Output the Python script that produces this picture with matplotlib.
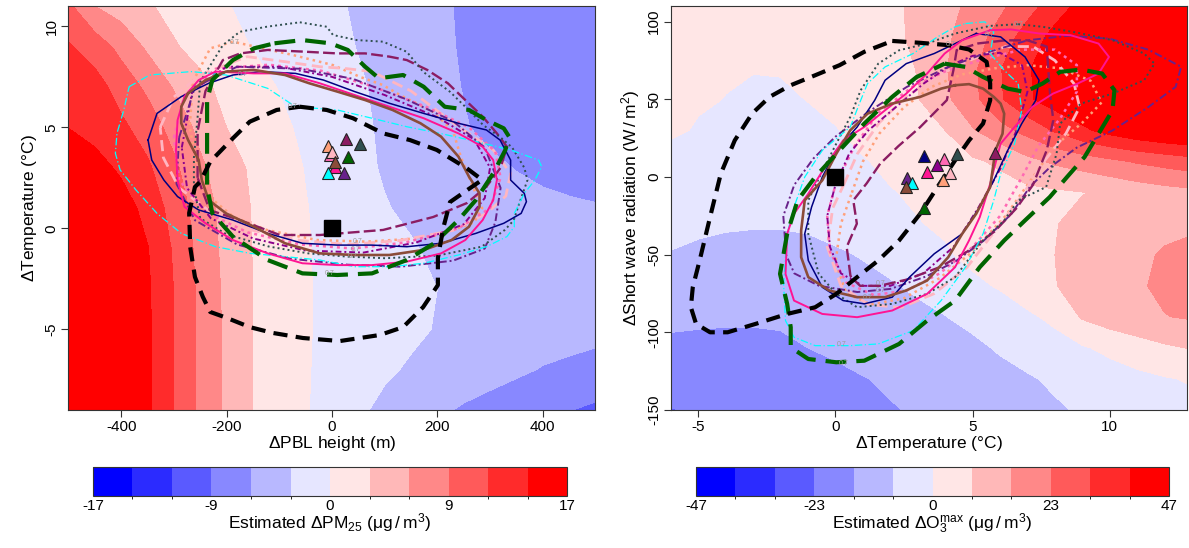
import numpy as np
import matplotlib
matplotlib.use("Agg")
import matplotlib.pyplot as plt
from matplotlib.colors import ListedColormap, BoundaryNorm
from matplotlib.cm import ScalarMappable

plt.rcParams['font.family'] = ['Liberation Sans', 'DejaVu Sans']
plt.rcParams['mathtext.default'] = 'regular'
plt.rcParams['axes.unicode_minus'] = False

# ------------------------------------------------------------------ colour scale
band_colors = ["#0000FF", "#2B2BFF", "#5A5AFF", "#8888FF", "#B8B8FF", "#E6E6FF",
               "#FFE6E6", "#FFB8B8", "#FF8888", "#FF5A5A", "#FF2B2B", "#FF0000"]
pm_limit = 17.0
o3_limit = 47.0
pm_cbar_ticks = [-17, -8.5, 0, 8.5, 17]
pm_cbar_labels = ["-17", "-9", "0", "9", "17"]
o3_cbar_ticks = [-47, -23.5, 0, 23.5, 47]
o3_cbar_labels = ["-47", "-23", "0", "23", "47"]

# ------------------------------------------------------------------ left panel: estimated dPM25 surface
# values in colour steps (1 step = pm_limit / 6 ug/m3), rows = temperature nodes, cols = PBL nodes
pbl_nodes = [-500, -450, -400, -350, -300, -250, -200, -150, -100, -50, 0,
             50, 100, 150, 200, 250, 300, 350, 400, 450, 500]
temp_nodes_left = [-9, -7, -5, -3, -1, 1, 3, 5, 7, 9, 11]
pm_field_steps = [
    [8.5, 7.6, 6.4, 5.2, 3.98, 2.81, 1.82, 0.99, 0.53, 0.065, -0.39, -0.85, -1.21, -1.53, -1.84, -2.11, -2.32, -2.54, -2.75, -2.97, -3.18],
    [8.8, 7.6, 6.4, 5.17, 3.98, 2.79, 1.80, 0.99, 0.53, 0.065, -0.26, -0.56, -0.87, -1.10, -1.29, -1.48, -1.66, -1.85, -2.05, -2.15, -2.30],
    [8.8, 7.6, 6.4, 5.17, 3.98, 2.79, 1.81, 0.99, 0.53, 0.065, -0.19, -0.41, -0.62, -0.84, -1.05, -1.20, -1.35, -1.50, -1.60, -1.70, -1.75],
    [8.7, 7.5, 6.35, 5.14, 3.98, 2.77, 1.77, 0.99, 0.53, 0.065, -0.18, -0.38, -0.59, -0.80, -1.00, -1.15, -1.28, -1.40, -1.50, -1.58, -1.65],
    [8.5, 7.4, 6.2, 5.05, 3.88, 2.67, 1.71, 0.97, 0.51, 0.055, -0.21, -0.45, -0.69, -0.93, -1.15, -1.30, -1.42, -1.52, -1.60, -1.68, -1.75],
    [7.3, 6.5, 5.55, 4.63, 3.63, 2.51, 1.62, 0.94, 0.49, 0.04, -0.30, -0.62, -0.95, -1.15, -1.33, -1.48, -1.60, -1.70, -1.78, -1.85, -1.92],
    [6.0, 5.43, 4.8, 4.16, 3.21, 2.17, 1.43, 0.84, 0.39, -0.04, -0.41, -0.79, -1.08, -1.27, -1.46, -1.65, -1.84, -2.03, -2.20, -2.35, -2.50],
    [4.98, 4.59, 4.2, 3.55, 2.62, 1.74, 1.0, 0.59, 0.19, -0.18, -0.50, -0.83, -1.13, -1.40, -1.67, -1.94, -2.20, -2.40, -2.55, -2.68, -2.80],
    [4.75, 4.4, 3.6, 2.79, 1.93, 1.23, 0.73, 0.34, -0.04, -0.33, -0.61, -0.90, -1.19, -1.47, -1.76, -2.03, -2.25, -2.45, -2.60, -2.72, -2.82],
    [4.1, 3.55, 2.69, 1.83, 1.08, 0.70, 0.32, -0.04, -0.29, -0.53, -0.78, -1.03, -1.29, -1.56, -1.82, -2.08, -2.30, -2.48, -2.62, -2.74, -2.85],
    [3.2, 2.0, 1.55, 1.1, 0.73, 0.39, 0.04, -0.20, -0.42, -0.65, -0.87, -1.10, -1.35, -1.60, -1.85, -2.10, -2.30, -2.47, -2.60, -2.72, -2.83],
]

# ------------------------------------------------------------------ right panel: estimated dO3max surface
temp_nodes_right = [-6, -5, -4, -3, -2, -1, 0, 1, 2, 3, 4, 5, 6, 7, 8, 9, 10, 11, 12, 13]
sw_nodes = [-150, -130, -110, -90, -70, -50, -30, -10, 10, 30, 50, 70, 90, 110]
o3_field_steps = [
    [-3.05, -2.85, -2.7, -2.6, -2.5, -2.4, -2.28, -2.17, -2.05, -1.93, -1.8, -1.65, -1.5, -1.33, -1.12, -0.9, -0.7, -0.5, -0.35, -0.25],
    [-2.5, -2.55, -2.55, -2.5, -2.42, -2.3, -2.17, -2.03, -1.9, -1.77, -1.62, -1.47, -1.3, -1.1, -0.85, -0.65, -0.45, -0.25, -0.07, 0.08],
    [-2.15, -2.18, -2.2, -2.2, -2.15, -2.0, -1.88, -1.75, -1.62, -1.5, -1.35, -1.2, -0.9, -0.6, -0.35, -0.1, 0.22, 0.55, 0.85, 1.05],
    [-1.85, -1.88, -1.9, -1.9, -1.88, -1.85, -1.78, -1.65, -1.45, -1.22, -1.02, -0.75, -0.45, -0.15, 0.2, 1.1, 1.5, 1.75, 1.97, 2.1],
    [-1.45, -1.5, -1.5, -1.5, -1.5, -1.45, -1.35, -1.22, -1.08, -0.85, -0.6, -0.18, 0.08, 0.5, 0.97, 1.3, 1.6, 1.88, 2.2, 2.3],
    [-1.02, -1.1, -1.18, -1.22, -1.22, -1.2, -1.1, -0.95, -0.72, -0.48, -0.1, 0.2, 0.45, 0.72, 1.0, 1.3, 1.55, 1.8, 2.1, 2.25],
    [-0.88, -0.9, -0.93, -0.95, -0.95, -0.9, -0.75, -0.55, -0.27, -0.04, 0.13, 0.3, 0.48, 0.7, 0.96, 1.25, 1.45, 1.6, 1.75, 1.85],
    [-0.75, -0.8, -0.8, -0.78, -0.7, -0.58, -0.42, -0.25, -0.05, 0.13, 0.3, 0.45, 0.6, 0.75, 0.85, 0.97, 1.15, 1.4, 1.6, 1.75],
    [-0.5, -0.55, -0.6, -0.6, -0.55, -0.4, -0.25, -0.06, 0.18, 0.4, 0.62, 0.85, 1.16, 1.72, 2.15, 2.46, 2.78, 3.1, 3.35, 3.6],
    [0.2, -0.1, -0.35, -0.5, -0.45, -0.3, -0.05, 0.25, 0.5, 0.75, 1.0, 1.91, 2.62, 3.33, 4.1, 4.8, 5.35, 5.8, 6.1, 6.3],
    [0.25, 0.12, -0.02, -0.25, -0.2, 0.03, 0.25, 0.48, 0.73, 0.96, 1.80, 2.71, 3.88, 4.85, 5.5, 5.9, 6.2, 6.4, 6.5, 6.5],
    [0.2, 0.15, 0.1, 0.06, 0.08, 0.2, 0.35, 0.5, 0.7, 1.03, 1.93, 2.79, 3.94, 4.92, 5.5, 6.0, 6.3, 6.5, 6.6, 6.6],
    [0.2, 0.28, 0.36, 0.44, 0.52, 0.6, 0.68, 0.76, 0.87, 1.11, 1.82, 2.53, 3.38, 4.48, 5.3, 5.7, 6.0, 6.3, 6.5, 6.6],
    [0.25, 0.33, 0.41, 0.49, 0.57, 0.65, 0.73, 0.81, 0.90, 1.09, 1.67, 2.24, 2.80, 3.58, 4.56, 5.3, 5.6, 5.9, 6.2, 6.4],
]

# ------------------------------------------------------------------ left panel: 0.7 density contours (dPBL m, dT degC)
pbl_obs = ([-61, -10, 40, 97, 148, 199, 256, 285, 257, 224, 211, 201, 201, 173, 135, 91, 15, -55, -112, -156, -199, -231, -245, -260, -269, -271, -260, -250, -231, -188, -156, -105],
           [6.02, 5.86, 5.45, 4.70, 4.37, 3.88, 2.97, 2.4, 1.9, 1.3, 0.0, -1.47, -2.81, -3.90, -4.89, -5.28, -5.58, -5.43, -5.18, -4.89, -4.44, -4.14, -3.40, -2.41, -0.93, 0.76, 2.05, 2.31, 3.30, 4.46, 5.28, 5.86])
pbl_cyan = ([-385, -346, -267, -201, -122, -69, 10, 76, 142, 207, 273, 339, 392, 398, 385, 365, 346, 346, 332, 293, 240, 174, 109, 43, -23, -89, -155, -221, -286, -332, -372, -402, -411, -408, -395],
            [7.01, 7.59, 7.76, 7.59, 6.93, 6.02, 5.86, 5.45, 5.03, 4.69, 4.3, 3.88, 3.38, 3.05, 2.39, 1.73, 0.74, 0.08, -0.41, -0.91, -1.32, -1.73, -1.90, -1.90, -1.57, -1.40, -1.24, -0.91, -0.25, 0.74, 1.90, 2.89, 3.71, 4.70, 5.86])
pbl_navy = ([-349, -332, -286, -234, -188, -135, -69, -16, 43, 109, 174, 240, 293, 319, 339, 339, 365, 369, 359, 326, 273, 207, 142, 76, 10, -56, -122, -188, -253, -293, -319, -342],
            [4.37, 5.69, 6.52, 7.18, 7.59, 7.76, 7.67, 7.34, 6.77, 6.19, 5.69, 5.20, 4.87, 4.37, 3.38, 2.39, 1.73, 1.32, 0.74, 0.25, -0.25, -0.74, -0.91, -0.83, -0.83, -0.74, -0.25, 0.41, 0.91, 1.57, 2.39, 3.38])
pbl_brown = ([-273, -240, -201, -148, -89, -43, 10, 63, 115, 168, 207, 240, 260, 280, 280, 260, 227, 174, 109, 43, -23, -89, -148, -201, -234, -247, -253, -273, -286, -286],
             [6.68, 7.34, 7.76, 7.84, 7.59, 7.18, 6.77, 6.35, 5.86, 5.20, 4.54, 3.55, 2.56, 1.73, 1.07, 0.08, -0.58, -1.07, -1.32, -1.32, -1.24, -0.74, 0.08, 0.74, 1.40, 2.39, 3.38, 4.37, 5.20, 6.02])
pbl_deeppink = ([-221, -148, -89, -23, 43, 109, 174, 240, 286, 306, 313, 306, 286, 253, 207, 142, 76, 10, -56, -122, -188, -240, -280, -293, -296, -293, -280, -253],
                [7.76, 7.67, 7.67, 7.18, 6.60, 6.02, 5.45, 4.70, 4.04, 3.38, 2.39, 1.40, 0.41, -0.58, -1.24, -1.65, -1.82, -1.82, -1.73, -1.24, -0.58, 0.25, 1.07, 2.39, 3.88, 5.36, 6.52, 7.34])
pbl_darkgreen = ([-109, -56, -3, 30, 63, 89, 135, 174, 214, 260, 293, 326, 336, 329, 306, 273, 240, 194, 142, 76, 10, -56, -122, -188, -227, -237, -237, -237, -227, -188, -148],
                 [9.16, 9.32, 9.16, 8.83, 8.0, 7.43, 7.59, 7.01, 6.02, 5.86, 5.36, 4.95, 4.54, 3.88, 2.72, 1.40, 0.41, -0.74, -1.57, -2.23, -2.31, -2.23, -1.57, -0.41, 0.74, 2.06, 3.88, 6.35, 7.34, 8.33, 8.91])
pbl_slate = ([-61, -10, 2, 47, 97, 142, 173, 224, 256, 287, 320, 342, 365, 371, 355, 345, 328, 284, 200, 101, 28, -45, -120, -200, -250, -262, -262, -255, -250, -207, -175, -124],
             [10.2, 9.98, 9.57, 9.32, 9.24, 8.74, 7.75, 6.76, 5.94, 5.11, 4.5, 4.0, 3.0, 2.39, 1.2, 0.4, -0.08, -0.91, -1.35, -1.48, -1.40, -1.24, -0.9, -0.3, 0.5, 2.0, 3.5, 5.5, 7.26, 9.07, 9.73, 9.98])
pbl_maroon = ([-255, -255, -240, -207, -174, -122, -56, 10, 63, 109, 142, 181, 220, 253, 286, 313, 332, 320, 293, 256, 192, 97, -23, -99, -175, -232],
              [2.5, 4.8, 6.8, 8.33, 8.66, 8.83, 8.75, 8.66, 8.66, 8.5, 8.33, 7.84, 7.18, 6.35, 5.53, 4.70, 4.04, 3.0, 2.06, 1.25, 0.56, -0.08, -0.33, -0.33, 0.41, 0.9])
pbl_salmon = ([-264, -231, -188, -74, 2, 53, 97, 129, 192, 230, 245, 265, 285, 270, 200, 161, 66, -28, -124, -187, -230, -255, -270],
              [7.26, 8.91, 9.24, 8.58, 8.08, 7.5, 7.09, 6.6, 5.77, 4.8, 3.5, 2.2, 1.0, 0.3, -0.35, -0.5, -0.66, -0.58, -0.08, 0.57, 1.5, 3.0, 5.0])
pbl_pink = ([-326, -300, -250, -161, -89, -23, 23, 76, 150, 240, 306, 339, 330, 293, 230, 130, 30, -60, -150, -230, -290, -320],
            [5.0, 6.5, 7.6, 8.5, 8.25, 8.0, 7.92, 7.76, 6.8, 5.03, 3.88, 2.72, 1.6, 0.74, -0.1, -0.6, -0.8, -0.6, -0.1, 0.8, 2.0, 3.5])
pbl_hotpink = ([-300, -280, -220, -120, -20, 80, 180, 260, 310, 320, 300, 240, 140, 40, -60, -160, -240, -290],
               [4.5, 6.6, 7.9, 8.1, 7.8, 7.0, 6.0, 5.0, 3.8, 2.5, 1.0, 0.0, -0.7, -1.0, -0.8, -0.2, 0.8, 2.4])
pbl_orchid = ([-290, -260, -180, -60, 40, 140, 230, 290, 320, 310, 290, 230, 130, 30, -80, -180, -260, -295],
              [4.5, 7.0, 8.0, 7.9, 7.4, 6.4, 5.3, 4.0, 2.0, 0.3, -1.0, -1.6, -1.9, -1.8, -1.5, -0.8, 0.4, 2.2])
pbl_magenta = ([-285, -265, -200, -100, 0, 100, 200, 270, 300, 290, 250, 160, 60, -50, -150, -230, -275],
               [4.0, 6.8, 8.0, 8.0, 7.5, 6.6, 5.5, 4.4, 3.0, 1.5, 0.2, -0.7, -1.2, -1.1, -0.5, 0.5, 2.0])
pbl_label_x = [-74, -184, -169, 44, 40, -5, 49]
pbl_label_y = [6.02, 9.2, 7.64, -1.04, -1.37, -2.23, -0.63]

# ------------------------------------------------------------------ right panel: 0.7 density contours (dT degC, dSW W/m2)
sw_obs = ([2.07, 3.09, 4.11, 4.87, 5.51, 5.64, 5.64, 5.38, 4.87, 4.36, 3.72, 3.09, 2.32, 1.56, 0.79, 0.03, -0.74, -1.76, -2.91, -3.93, -4.57, -5.08, -5.27, -5.20, -4.95, -4.57, -4.18, -3.67, -3.04, -2.40, -1.63, -0.74, 0.15, 1.05],
          [87.6, 86.4, 84.9, 82.1, 74.1, 60.2, 49.4, 34.4, 23.6, 10.7, -6.4, -23.6, -40.8, -53.7, -64.4, -75.2, -83.8, -88.1, -94.5, -99.9, -99.9, -94.5, -83.8, -70.9, -53.7, -25.8, 2.1, 23.6, 40.8, 51.6, 59.1, 65.5, 72.0, 80.6])
sw_darkgreen = ([3.98, 4.74, 5.38, 6.28, 6.91, 7.55, 8.19, 8.95, 9.72, 10.17, 10.1, 9.59, 9.08, 8.44, 7.81, 6.91, 6.15, 5.26, 4.36, 3.34, 2.32, 1.05, 0.03, -0.99, -1.63, -1.63, -1.76, -2.02, -1.76, -1.38, -0.74, 0.15, 1.05, 2.07, 2.96],
                [73.0, 70.9, 64.4, 56.9, 54.8, 60.2, 67.7, 69.2, 66.6, 55.9, 43.0, 27.9, 12.9, 0, -12.9, -27.9, -40.8, -58.0, -79.5, -92.4, -107.4, -118.2, -119.2, -117.1, -109.6, -96.7, -81.6, -62.3, -36.5, -15.0, 0, 17.2, 34.4, 51.6, 64.4])
sw_cyan = ([4.74, 5.45, 5.77, 5.64, 6.15, 6.66, 6.79, 6.53, 6.02, 5.77, 5.38, 4.74, 3.85, 2.83, 1.56, 0.54, -0.74, -1.51, -1.82, -1.89, -1.76, -1.51, -1.12, -0.48, 0.54, 0.92, 1.17, 1.81, 2.83, 3.72, 4.36],
           [98.8, 99.9, 93.4, 79.5, 68.7, 60.2, 43.0, 21.5, 2.1, -15.0, -36.5, -58.0, -79.5, -98.8, -107.4, -108.5, -108.5, -103.1, -92.4, -68.7, -36.5, -19.3, 0, 17.2, 32.2, 49.4, 60.2, 70.9, 79.5, 90.2, 96.7])
sw_navy = ([5.13, 6.02, 6.91, 7.42, 7.30, 6.79, 6.28, 5.77, 5.26, 4.62, 3.60, 2.70, 2.07, 1.05, 0.28, -0.48, -0.99, -1.12, -0.87, -0.48, 0.03, 0.79, 1.43, 1.81, 2.58, 3.60, 4.36],
           [92.4, 90.2, 77.3, 62.3, 49.4, 34.4, 17.2, -2.1, -19.3, -36.5, -49.4, -64.4, -77.3, -81.6, -79.5, -70.9, -53.7, -36.5, -19.3, 0, 17.2, 32.2, 49.4, 62.3, 73.0, 79.5, 85.9])
sw_deeppink = ([5.64, 6.40, 7.42, 8.57, 9.59, 9.97, 9.59, 8.83, 7.93, 7.17, 6.53, 6.02, 5.64, 5.26, 4.87, 4.36, 3.34, 2.07, 0.79, -0.48, -1.51, -1.82, -1.76, -1.51, -0.99, -0.23, 0.28, 1.05, 1.81, 2.58, 3.34, 3.98, 4.62],
               [94.5, 95.0, 92.4, 91.3, 85.9, 77.3, 66.6, 60.2, 53.7, 45.1, 32.2, 21.5, -4.3, -25.8, -40.8, -58.0, -75.2, -85.9, -90.2, -88.1, -79.5, -62.3, -36.5, -23.6, -10.7, 10.7, 23.6, 32.2, 43.0, 53.7, 66.6, 79.5, 88.1])
sw_brown = ([4.36, 4.87, 5.38, 5.77, 6.02, 6.15, 6.09, 5.83, 5.64, 5.13, 4.62, 4.11, 3.34, 2.58, 1.81, 0.79, -0.23, -0.99, -1.25, -1.25, -1.12, -0.48, 0.03, 0.54, 1.17, 2.07, 3.09, 3.85],
            [59.1, 59.8, 56.9, 51.6, 47.3, 40.8, 27.9, 17.2, -6.4, -23.6, -36.5, -51.6, -66.6, -73.0, -77.3, -77.3, -73.0, -64.4, -51.6, -34.4, -15.0, -2.1, 15.0, 30.1, 40.8, 47.3, 51.6, 56.9])
sw_slate = ([6.66, 7.55, 8.8, 10.1, 11.25, 11.63, 11.25, 10.1, 8.95, 8.19, 8.06, 7.68, 6.66, 6.15, 5.38, 4.36, 3.34, 2.07, 0.79, 0.03, -0.61, -0.99, -0.99, -0.5, 0.03, 0.54, 0.92, 1.56, 2.32, 3.34, 4.36, 5.64],
            [98.4, 96.7, 93.0, 88.1, 79.5, 73.0, 62.3, 53.7, 47.3, 34.4, 15.0, -6.4, -15.0, -27.9, -40.8, -64.4, -75.2, -81.6, -83.8, -75.2, -62.3, -36.5, -15.0, 3.0, 21.5, 38.7, 55.9, 73.0, 81.6, 85.9, 92.4, 97.3])
sw_maroon = ([0.55, 0.41, 0.78, 0.65, 1.14, 1.63, 2.3, 3.08, 4.06, 4.30, 4.42, 5.2, 6.2, 7.0, 7.7, 7.82, 7.94, 7.70, 7.2, 6.6, 5.8, 4.8, 3.8, 2.6, 1.6, 0.9],
             [-64, -45, -30, -15, -4, 8.6, 20, 32, 49.5, 68.8, 81.7, 86, 88, 88, 84, 54, 36.6, 17.2, -5, -20, -35, -48, -58, -66, -70, -70])
sw_salmon = ([0.6, 1.0, 1.6, 2.5, 3.5, 4.6, 5.8, 7.0, 8.2, 9.3, 9.7, 9.0, 8.0, 7.2, 6.2, 5.0, 3.8, 2.5, 1.3, 0.4, 0.0, 0.2],
             [-10, 10, 28, 45, 58, 66, 70, 72, 70, 62, 48, 35, 20, 0, -25, -48, -65, -78, -82, -75, -55, -30])
sw_pink = ([0.3, 0.8, 1.6, 2.6, 3.8, 5.0, 6.2, 7.2, 8.0, 8.7, 8.9, 8.4, 7.6, 6.8, 5.8, 4.8, 3.6, 2.4, 1.2, 0.2, -0.3, -0.1],
           [-5, 15, 35, 52, 66, 76, 84, 84, 75, 60, 45, 28, 10, -12, -35, -58, -75, -84, -82, -70, -45, -20])
sw_hotpink = ([0.0, 0.7, 1.6, 2.8, 4.0, 5.4, 6.8, 8.0, 8.8, 8.8, 8.2, 7.4, 6.8, 6.0, 5.0, 3.8, 2.6, 1.4, 0.4, -0.2, -0.3],
              [-5, 20, 42, 58, 68, 76, 82, 82, 72, 55, 38, 20, 0, -25, -45, -62, -73, -76, -68, -48, -25])
sw_orchid = ([-1.8, -1.9, -1.5, -0.8, 0.0, 1.2, 2.6, 4.0, 5.5, 7.0, 8.5, 10.0, 11.4, 12.6, 12.4, 11.4, 10.1, 8.8, 7.8, 7.1, 6.4, 5.4, 4.4, 3.3, 2.0, 0.8, -0.6, -1.5],
             [-50, -25, -5, 12, 26, 42, 58, 70, 80, 88, 91, 89, 82, 71, 58, 45, 30, 19, 6, -6, -24, -41, -54, -64, -72, -74, -70, -62])
sw_magenta = ([0.0, 0.5, 1.2, 2.2, 3.2, 4.2, 5.0, 6.0, 6.8, 7.0, 6.6, 6.0, 5.2, 4.3, 3.2, 2.0, 1.0, 0.2, -0.2, -0.3],
              [-5, 15, 30, 45, 60, 72, 78, 80, 72, 55, 30, 5, -20, -45, -62, -70, -70, -62, -45, -25])
sw_label_x = [1.63, 1.63, 1.19, 0.23, 0.29, 6.67, 5.63, 4.18]
sw_label_y = [-68.8, -73.1, -77.6, -107.5, -120.0, 97.9, 92.0, 85.0]

# ------------------------------------------------------------------ mean changes (triangles) and reference (square)
pbl_tri_models = ["hotpink", "salmon", "pink", "maroon", "slate", "darkgreen", "deeppink", "brown", "cyan", "orchid"]
pbl_tri_x = [-4, -8, 1, 27, 54, 30, 6, 6, -7, 23]
pbl_tri_y = [3.63, 4.07, 3.79, 4.41, 4.16, 3.55, 3.02, 3.27, 2.72, 2.72]
sw_tri_models = ["navy", "hotpink", "magenta", "slate", "deeppink", "pink", "salmon", "orchid", "cyan", "brown", "darkgreen", "maroon"]
sw_tri_x = [3.23, 3.96, 3.71, 4.44, 3.33, 4.18, 3.91, 2.60, 2.80, 2.57, 3.23, 5.82]
sw_tri_y = [13.4, 11.6, 8.0, 15.1, 3.2, 2.6, -2.1, -0.4, -3.6, -6.5, -19.8, 15.5]
ref_point = (0, 0)

# ------------------------------------------------------------------ styles
style = {
    "navy":      dict(color="#000080", ls="-", lw=1.1),
    "cyan":      dict(color="#00FFFF", ls=(0, (6, 2, 1, 2)), lw=0.9),
    "brown":     dict(color="#8B4C39", ls="-", lw=1.9),
    "deeppink":  dict(color="#FF1493", ls="-", lw=1.4),
    "slate":     dict(color="#2F4F4F", ls=(0, (1, 1.6)), lw=1.4),
    "darkgreen": dict(color="#006400", ls=(0, (5.0, 2.4)), lw=3.0),
    "maroon":    dict(color="#8B1C62", ls=(0, (5, 1.8)), lw=1.7),
    "orchid":    dict(color="#68228B", ls=(0, (4, 1.5, 1, 1.5)), lw=1.4),
    "magenta":   dict(color="#8B008B", ls=(0, (3, 1.5, 1, 1.5)), lw=1.4),
    "salmon":    dict(color="#FFA07A", ls=(0, (1, 1.6)), lw=1.8),
    "pink":      dict(color="#FFB6C1", ls=(0, (4, 2)), lw=2.0),
    "hotpink":   dict(color="#FF69B4", ls=(0, (1.2, 1.6)), lw=1.8),
    "obs":       dict(color="#000000", ls=(0, (3.4, 2.0)), lw=3.0),
}

left_loops = [("salmon", pbl_salmon), ("pink", pbl_pink), ("hotpink", pbl_hotpink), ("magenta", pbl_magenta),
              ("orchid", pbl_orchid), ("maroon", pbl_maroon), ("slate", pbl_slate), ("cyan", pbl_cyan),
              ("navy", pbl_navy), ("deeppink", pbl_deeppink), ("brown", pbl_brown),
              ("darkgreen", pbl_darkgreen), ("obs", pbl_obs)]
right_loops = [("salmon", sw_salmon), ("pink", sw_pink), ("hotpink", sw_hotpink), ("magenta", sw_magenta),
               ("orchid", sw_orchid), ("maroon", sw_maroon), ("slate", sw_slate), ("cyan", sw_cyan),
               ("navy", sw_navy), ("deeppink", sw_deeppink), ("brown", sw_brown),
               ("darkgreen", sw_darkgreen), ("obs", sw_obs)]

# ------------------------------------------------------------------ figure
cmap = ListedColormap(band_colors)
cmap.set_over(band_colors[-1])
cmap.set_under(band_colors[0])

fig = plt.figure(figsize=(11.89, 5.48), dpi=100)
axL = fig.add_axes([0.0576, 0.2516, 0.4432, 0.7372])
axR = fig.add_axes([0.5642, 0.2516, 0.4338, 0.7372])


def draw_panel(ax, xn, yn, steps, limit, loops, tri_models, tri_x, tri_y, lab_x, lab_y):
    levels = np.linspace(-limit, limit, 13)
    Z = np.array(steps) * limit / 6.0
    ax.contourf(xn, yn, Z, levels=levels, cmap=cmap, extend="both", zorder=0, antialiased=False)
    for name, (lx, ly) in loops:
        st = style[name]
        ax.plot(list(lx) + [lx[0]], list(ly) + [ly[0]], color=st["color"], ls=st["ls"],
                lw=st["lw"], zorder=2, solid_joinstyle="round", dash_capstyle="butt")
    for lx, ly in zip(lab_x, lab_y):
        ax.text(lx, ly, "0.7", fontsize=5, color="#9a9a9a", ha="center", va="center", zorder=3)
    for m, tx, ty in zip(tri_models, tri_x, tri_y):
        ax.plot(tx, ty, marker="^", ms=9, color=style[m]["color"], mec="#222222", mew=0.8,
                ls="none", zorder=5)
    ax.plot(*ref_point, marker="s", ms=11, color="black", ls="none", zorder=4)
    for sp in ax.spines.values():
        sp.set_color("#333333")
        sp.set_linewidth(0.8)
    ax.tick_params(direction="out", length=5, width=0.8, labelsize=11, pad=2, color="#333333")


draw_panel(axL, pbl_nodes, temp_nodes_left, pm_field_steps, pm_limit, left_loops,
           pbl_tri_models, pbl_tri_x, pbl_tri_y, pbl_label_x, pbl_label_y)
axL.set_xlim(-500, 500)
axL.set_ylim(-9, 11)
axL.set_xticks([-400, -200, 0, 200, 400])
axL.set_yticks([-5, 0, 5, 10])
for lbl in axL.get_yticklabels():
    lbl.set_rotation(90)
    lbl.set_va("center")
axL.set_xlabel(r"$\Delta$PBL height (m)", fontsize=12.5, labelpad=0)
axL.set_ylabel(r"$\Delta$Temperature (°C)", fontsize=12.5, labelpad=4)

draw_panel(axR, temp_nodes_right, sw_nodes, o3_field_steps, o3_limit, right_loops,
           sw_tri_models, sw_tri_x, sw_tri_y, sw_label_x, sw_label_y)
axR.set_xlim(-6, 12.8)
axR.set_ylim(-150, 110)
axR.set_xticks([-5, 0, 5, 10])
axR.set_yticks([-150, -100, -50, 0, 50, 100])
for lbl in axR.get_yticklabels():
    lbl.set_rotation(90)
    lbl.set_va("center")
axR.set_xlabel(r"$\Delta$Temperature (°C)", fontsize=12.5, labelpad=0)
axR.set_ylabel(r"$\Delta$Short wave radiation (W$\,/\,$m$^{2}$)", fontsize=12.5, labelpad=4)

# ------------------------------------------------------------------ colour bars
def draw_cbar(rect, limit, ticks, labels, title):
    cax = fig.add_axes(rect)
    levels = np.linspace(-limit, limit, 13)
    sm = ScalarMappable(norm=BoundaryNorm(levels, 12), cmap=ListedColormap(band_colors))
    cb = fig.colorbar(sm, cax=cax, orientation="horizontal", ticks=ticks)
    cb.ax.set_xticklabels(labels)
    cb.ax.tick_params(length=0, labelsize=11, pad=2)
    cb.outline.set_linewidth(0.8)
    cb.outline.set_edgecolor("#333333")
    cb.set_label(title, fontsize=12.5, labelpad=-1)


draw_cbar([0.0782, 0.0949, 0.3987, 0.0529], pm_limit, pm_cbar_ticks, pm_cbar_labels,
          r"Estimated $\Delta$PM$_{25}$ ($\mu$g$\,/\,$m$^{3}$)")
draw_cbar([0.5854, 0.0949, 0.3978, 0.0529], o3_limit, o3_cbar_ticks, o3_cbar_labels,
          r"Estimated $\Delta$O$_{3}^{max}$ ($\mu$g$\,/\,$m$^{3}$)")

fig.savefig("out.png", dpi=100)
